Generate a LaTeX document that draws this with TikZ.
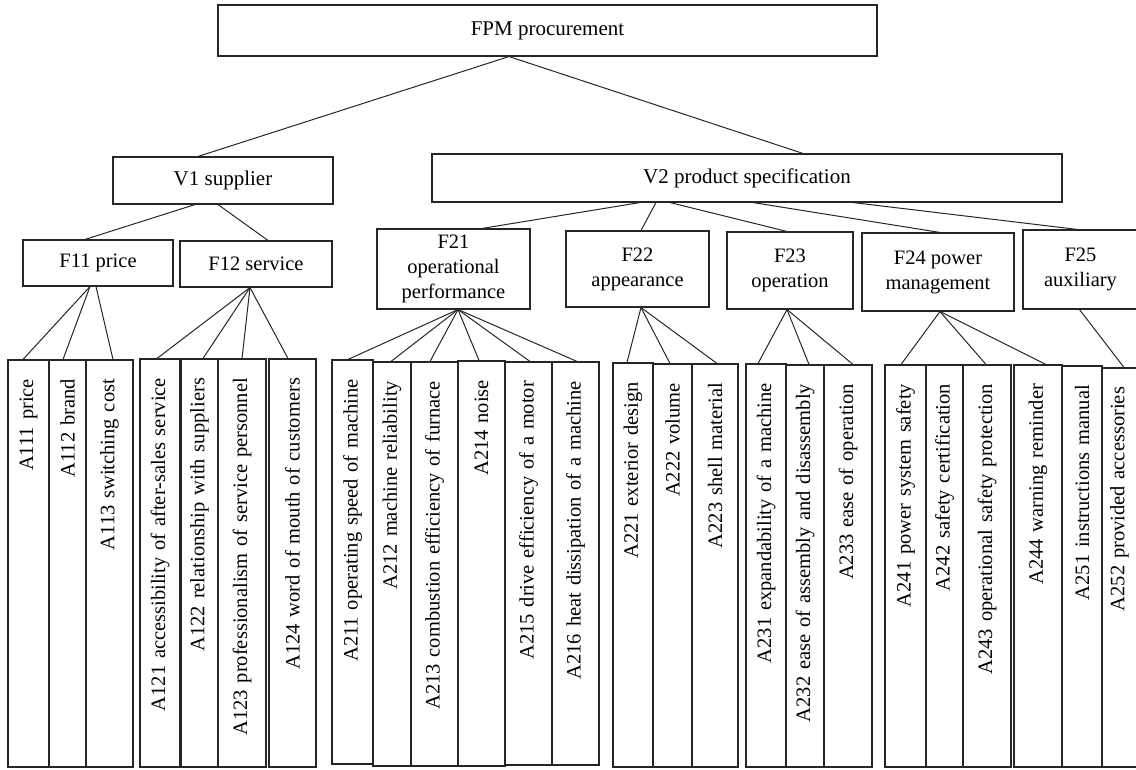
\documentclass[tikz,border=0pt]{standalone}
\usepackage{fontspec}
\setmainfont{Liberation Serif}
\begin{document}
\begin{tikzpicture}[x=1pt,y=-1pt,
  box/.style={draw=black!85, line width=1.1pt, inner sep=0pt, align=center},
  leaf/.style={draw=black!85, line width=1.1pt, inner sep=0pt, align=right, rotate=90,
    font=\fontsize{20.5}{24}\selectfont},
  conn/.style={draw=black!85, line width=1.0pt}]
\useasboundingbox (0,0) rectangle (1136,769);
\newcommand\bxnode[7]{%
  \pgfmathsetmacro\bxw{#3-#2}\pgfmathsetmacro\bxh{#5-#4}%
  \node[box, minimum width=\bxw pt, minimum height=\bxh pt, font=#6] (#1) at ({(#2+#3)/2},{(#4+#5)/2}) {#7};}
\newcommand\lfnode[6]{%
  \pgfmathsetmacro\lfw{#3-#2}\pgfmathsetmacro\lfh{#5-#4}\pgfmathsetmacro\lftw{#5-#4-38}%
  \node[leaf, minimum width=\lfh pt, minimum height=\lfw pt, text width=\lftw pt] (#1) at ({(#2+#3)/2},{(#4+#5)/2}) {#6};}
\def\fa{\fontsize{21}{25}\selectfont}
\def\fb{\fontsize{20.5}{25}\selectfont}
% top levels
\bxnode{fpm}{218}{877}{5}{56}{\fa}{FPM procurement}
\bxnode{v1}{113}{333}{157}{204}{\fa}{V1 supplier}
\bxnode{v2}{432}{1062}{154}{202}{\fa}{V2 product specification}
% F level
\bxnode{f11}{23}{173}{240}{286}{\fb}{F11 price}
\bxnode{f12}{180}{332}{241}{287}{\fb}{F12 service}
\bxnode{f21}{377}{530}{229}{309}{\fb}{F21\\operational\\performance}
\bxnode{f22}{566}{709}{231}{307}{\fb}{F22\\appearance}
\bxnode{f23}{727}{853}{232}{309}{\fb}{F23\\operation}
\bxnode{f24}{862}{1014}{233}{311}{\fb}{F24 power\\management}
\bxnode{f25}{1023}{1138}{230}{309}{\fb}{F25\\auxiliary}
% leaves
\lfnode{a111}{8}{49}{360}{767}{A111 price}
\lfnode{a112}{49}{86}{360}{767}{A112 brand}
\lfnode{a113}{86}{133}{360}{767}{A113 switching cost}
\lfnode{a121}{140}{180}{359}{767}{A121 accessibility of after-sales service}
\lfnode{a122}{181}{218}{359}{767}{A122 relationship with suppliers}
\lfnode{a123}{218}{266}{359}{767}{A123 professionalism of service personnel}
\lfnode{a124}{269}{316}{359}{767}{A124 word of mouth of customers}
\lfnode{a211}{332}{373}{360}{764}{A211 operating speed of machine}
\lfnode{a212}{373}{411}{362}{766}{A212 machine reliability}
\lfnode{a213}{411}{458}{362}{766}{A213 combustion efficiency of furnace}
\lfnode{a214}{458}{505}{361}{766}{A214 noise}
\lfnode{a215}{505}{552}{362}{765}{A215 drive efficiency of a motor}
\lfnode{a216}{552}{599}{362}{765}{A216 heat dissipation of a machine}
\lfnode{a221}{613}{653}{363}{767}{A221 exterior design}
\lfnode{a222}{653}{692}{364}{767}{A222 volume}
\lfnode{a223}{692}{738}{364}{767}{A223 shell material}
\lfnode{a231}{746}{786}{364}{767}{A231 expandability of a machine}
\lfnode{a232}{786}{824}{365}{767}{A232 ease of assembly and disassembly}
\lfnode{a233}{824}{872}{365}{767}{A233 ease of operation}
\lfnode{a241}{885}{926}{365}{767}{A241 power system safety}
\lfnode{a242}{926}{963}{365}{767}{A242 safety certification}
\lfnode{a243}{963}{1011}{365}{767}{A243 operational safety protection}
\lfnode{a244}{1014}{1062}{365}{767}{A244 warning reminder}
\lfnode{a251}{1062}{1102}{366}{767}{A251 instructions manual}
\lfnode{a252}{1102}{1137}{368}{767}{A252 provided accessories}
% connectors
\draw[conn] ([xshift=-38.5pt]fpm.south) -- ([xshift=-25pt]v1.north);
\draw[conn] ([xshift=-38.5pt]fpm.south) -- ([xshift=56pt]v2.north);
\draw[conn] ([xshift=-28pt]v1.south) -- ([xshift=-13pt]f11.north);
\draw[conn] ([xshift=-5pt]v1.south) -- ([xshift=12pt]f12.north);
\draw[conn] ([xshift=-107pt]v2.south) -- ([xshift=28.5pt]f21.north);
\draw[conn] ([xshift=-91pt]v2.south) -- ([xshift=3.5pt]f22.north);
\draw[conn] ([xshift=-77pt]v2.south) -- ([xshift=-3pt]f23.north);
\draw[conn] ([xshift=6pt]v2.south) -- ([xshift=2pt]f24.north);
\draw[conn] ([xshift=106pt]v2.south) -- ([xshift=-3pt]f25.north);
% F11
\draw[conn] ([xshift=-8pt]f11.south) -- ([xshift=-5.5pt]a111.east);
\draw[conn] ([xshift=-8pt]f11.south) -- ([xshift=-4.5pt]a112.east);
\draw[conn] ([xshift=-2pt]f11.south) -- ([xshift=3.5pt]a113.east);
% F12
\draw[conn] ([xshift=-6pt]f12.south) -- ([xshift=-3pt]a121.east);
\draw[conn] ([xshift=-6pt]f12.south) -- ([xshift=3.5pt]a122.east);
\draw[conn] ([xshift=-6pt]f12.south) -- (a123.east);
\draw[conn] ([xshift=-6pt]f12.south) -- ([xshift=-4.5pt]a124.east);
% F21
\draw[conn] ([xshift=4.5pt]f21.south) -- ([xshift=-4.5pt]a211.east);
\draw[conn] ([xshift=4.5pt]f21.south) -- ([xshift=-1pt]a212.east);
\draw[conn] ([xshift=4.5pt]f21.south) -- ([xshift=-4.5pt]a213.east);
\draw[conn] ([xshift=4.5pt]f21.south) -- ([xshift=-2.5pt]a214.east);
\draw[conn] ([xshift=4.5pt]f21.south) -- ([xshift=1.5pt]a215.east);
\draw[conn] ([xshift=4.5pt]f21.south) -- ([xshift=1.5pt]a216.east);
% F22
\draw[conn] ([xshift=3.5pt]f22.south) -- ([xshift=-6pt]a221.east);
\draw[conn] ([xshift=3.5pt]f22.south) -- ([xshift=-2.5pt]a222.east);
\draw[conn] ([xshift=3.5pt]f22.south) -- ([xshift=2pt]a223.east);
% F23
\draw[conn] ([xshift=-3pt]f23.south) -- ([xshift=-8pt]a231.east);
\draw[conn] ([xshift=-3pt]f23.south) -- ([xshift=4pt]a232.east);
\draw[conn] ([xshift=-3pt]f23.south) -- ([xshift=5pt]a233.east);
% F24
\draw[conn] ([xshift=2pt]f24.south) -- ([xshift=-4.5pt]a241.east);
\draw[conn] ([xshift=2pt]f24.south) -- ([xshift=-1pt]a243.east);
\draw[conn] ([xshift=2pt]f24.south) -- ([xshift=8pt]a244.east);
% F25
\draw[conn] ([xshift=-1pt]f25.south) -- ([xshift=4.5pt]a252.east);
\end{tikzpicture}
\end{document}
